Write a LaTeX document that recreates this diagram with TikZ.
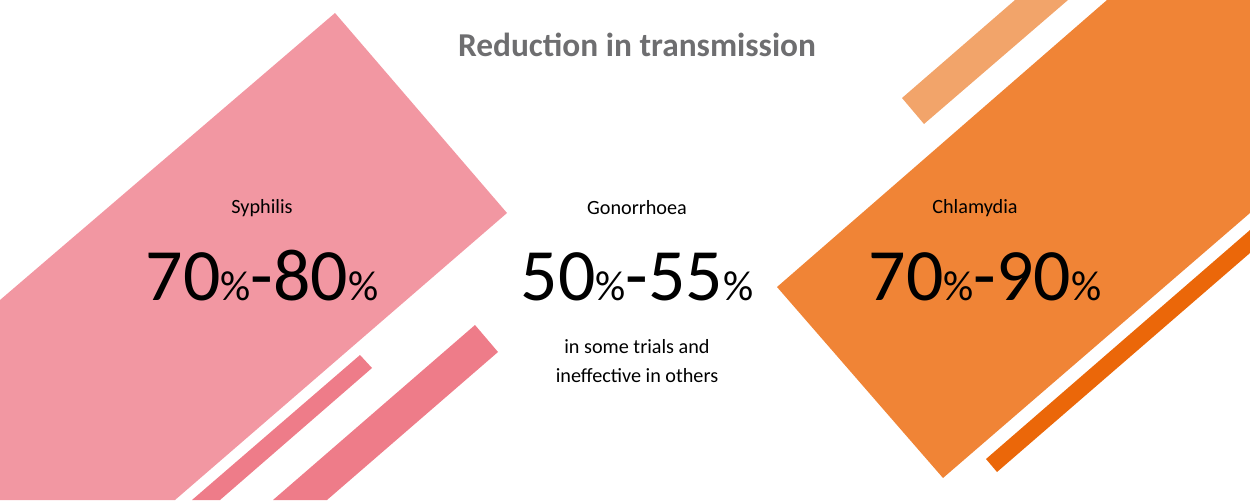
\documentclass[tikz,border=0pt]{standalone}
\usepackage{fontspec}
\setmainfont{Carlito}
\definecolor{pinkA}{HTML}{F297A2}
\definecolor{pinkB}{HTML}{EE7C89}
\definecolor{orA}{HTML}{F08436}
\definecolor{orB}{HTML}{F2A46A}
\definecolor{orC}{HTML}{EB6709}
\definecolor{ttl}{HTML}{6E6E70}
\begin{document}
\begin{tikzpicture}[x=0.02cm,y=-0.02cm,
  lab/.style={font=\fontsize{11.5}{13}\selectfont},
  big/.style={font=\fontsize{42}{44}\selectfont},
  sub/.style={font=\fontsize{11.5}{16}\selectfont,align=center}]
\newcommand{\pc}{{\fontsize{24}{24}\selectfont\%}}
\useasboundingbox (0,0) rectangle (1250,500);
\fill[pinkA] (0,300) -- (335,13) -- (507,213) -- (175,500) -- (0,500) -- cycle;
\fill[pinkB] (192,500) -- (360,355) -- (372,368) -- (220,500) -- cycle;
\fill[pinkB] (273,500) -- (475,325) -- (498,352) -- (327,500) -- cycle;
\fill[orA] (777,287) -- (1107,0) -- (1250,0) -- (1250,213) -- (943,478) -- cycle;
\fill[orB] (902,98) -- (1015,0) -- (1068,0) -- (924,124) -- cycle;
\fill[orC] (986,459) -- (1250,230) -- (1250,253) -- (997,472) -- cycle;
\node[font=\fontsize{19}{22}\selectfont\bfseries,text=ttl] (t) at (637,45) {Reduction in transmission};
\node[lab] (s) at (262,208) {Syphilis};
\node[big,anchor=base] (sv) at (262,300) {70\pc-80\pc};
\node[lab] (g) at (637,208) {Gonorrhoea};
\node[big,anchor=base] (gv) at (637,300) {50\pc-55\pc};
\node[sub] (gs) at (637,361) {in some trials and\\ineffective in others};
\node[lab] (c) at (975,208) {Chlamydia};
\node[big,anchor=base] (cv) at (985,300) {70\pc-90\pc};
\end{tikzpicture}
\end{document}
